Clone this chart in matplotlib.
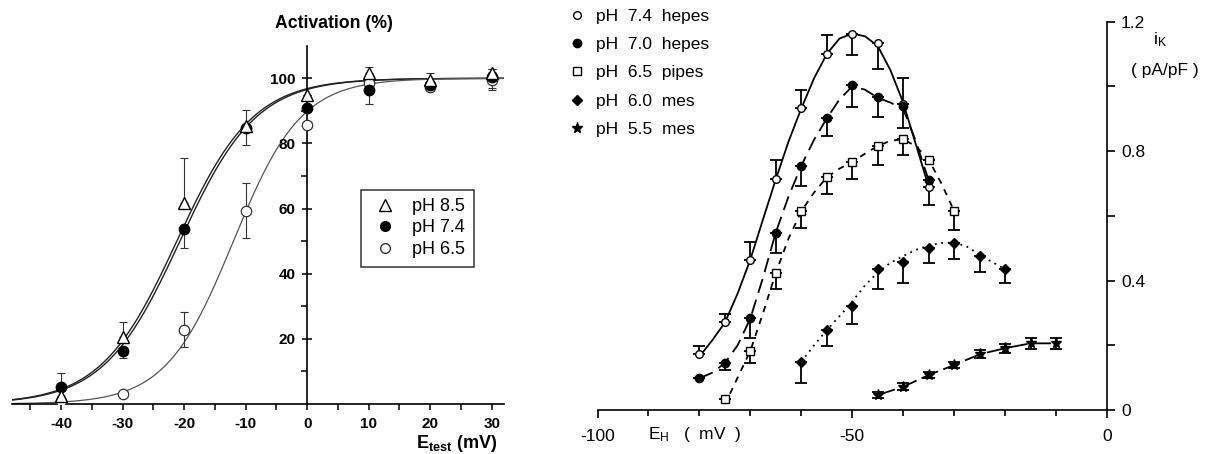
import numpy as np
import matplotlib
matplotlib.use("Agg")
import matplotlib.pyplot as plt
from matplotlib.lines import Line2D

plt.rcParams["font.family"] = ["Liberation Sans", "DejaVu Sans"]
plt.rcParams["axes.unicode_minus"] = False
plt.rcParams["mathtext.fontset"] = "custom"
plt.rcParams["mathtext.rm"] = "Liberation Sans"
plt.rcParams["mathtext.bf"] = "Liberation Sans:bold"

# ---------------- left panel: activation (%) vs E_test ----------------
e_test = [-40, -30, -20, -10, 0, 10, 20, 30]
act_85 = [2.5, 20.6, 61.8, 85.3, 94.8, 101.5, 99.5, 101.5]
act_85_lo = [0, 0, 0, 0, 0, 0, 1.5, 1.5]
act_85_hi = [0, 4.7, 13.6, 5.0, 0, 2.0, 2.0, 1.5]
act_74 = [5.3, 16.4, 53.8, 84.6, 91.0, 96.4, 98.0, 100.5]
act_74_lo = [0, 2.4, 6.0, 5.0, 0, 4.3, 1.0, 3.6]
act_74_hi = [4.1, 0, 0, 0, 0, 0, 0, 2.5]
act_65 = [0.8, 3.0, 22.7, 59.4, 85.7, 98.5, 97.2, 99.5]
act_65_lo = [0, 0, 5.3, 8.5, 0, 0, 1.0, 3.0]
act_65_hi = [0, 0, 5.4, 8.4, 0, 0, 0, 2.5]

# Boltzmann fits (V1/2, slope factor) as drawn in the figure
fit_85 = (-21.2, 6.2)
fit_74 = (-20.7, 6.2)
fit_65 = (-12.0, 5.5)

# ---------------- right panel: i_K vs E_H ----------------
eh_74 = [-80, -75, -70, -65, -60, -55, -50, -45, -40, -35]
ik_74 = [0.173, 0.271, 0.465, 0.713, 0.932, 1.10, 1.161, 1.134, 0.945, 0.69]
ik_74_lo = [0, 0, 0, 0, 0, 0, 0.065, 0.079, 0, 0.057]
ik_74_hi = [0.025, 0.025, 0.055, 0.061, 0.056, 0.058, 0, 0, 0, 0]

eh_70 = [-80, -75, -70, -65, -60, -55, -50, -45, -40, -35]
ik_70 = [0.098, 0.144, 0.283, 0.548, 0.755, 0.903, 1.004, 0.968, 0.939, 0.71]
ik_70_lo = [0, 0.02, 0.059, 0.064, 0.062, 0.057, 0.069, 0.064, 0.067, 0]
ik_70_hi = [0, 0, 0, 0, 0, 0, 0, 0, 0.088, 0]

eh_65 = [-75, -70, -65, -60, -55, -50, -45, -40, -35, -30]
ik_65 = [0.033, 0.183, 0.424, 0.614, 0.719, 0.767, 0.816, 0.837, 0.774, 0.615]
ik_65_lo = [0, 0.039, 0.051, 0.051, 0.051, 0.053, 0.06, 0.049, 0, 0.059]

eh_60 = [-60, -55, -50, -45, -40, -35, -30, -25, -20]
ik_60 = [0.149, 0.247, 0.321, 0.436, 0.458, 0.502, 0.516, 0.476, 0.435]
ik_60_lo = [0.065, 0.049, 0.055, 0.063, 0.064, 0.047, 0.05, 0.051, 0.044]

eh_55 = [-45, -40, -35, -30, -25, -20, -15, -10]
ik_55 = [0.046, 0.072, 0.108, 0.139, 0.172, 0.191, 0.206, 0.206]
ik_55_err = [0.01, 0.01, 0.01, 0.01, 0.012, 0.014, 0.018, 0.018]

# hand-drawn smooth curves
curve_74_x = [-80, -77.5, -75, -72.5, -70, -67.5, -65, -62.5, -60, -57.5,
              -55, -52.5, -50, -47.5, -45, -42.5, -40, -37.5, -35]
curve_74_y = [0.165, 0.215, 0.27, 0.36, 0.465, 0.59, 0.713, 0.83, 0.932, 1.025,
              1.10, 1.148, 1.163, 1.155, 1.125, 1.05, 0.95, 0.82, 0.69]
curve_70_x = [-80, -77.5, -75, -72.5, -70, -67.5, -65, -62.5, -60, -57.5,
              -55, -52.5, -50, -47.5, -45, -42.5, -40, -37.5, -35]
curve_70_y = [0.098, 0.115, 0.145, 0.20, 0.283, 0.41, 0.549, 0.66, 0.755, 0.835,
              0.901, 0.96, 1.0, 0.99, 0.965, 0.95, 0.93, 0.83, 0.71]
curve_65_x = [-74, -72.5, -70, -67.5, -65, -62.5, -60, -57.5, -55, -52.5,
              -50, -47.5, -45, -42.5, -40, -37.5, -35, -32.5, -30]
curve_65_y = [0.05, 0.10, 0.183, 0.30, 0.424, 0.53, 0.614, 0.672, 0.719, 0.746,
              0.767, 0.792, 0.816, 0.832, 0.837, 0.815, 0.774, 0.70, 0.615]
curve_60_x = [-60, -57.5, -55, -52.5, -50, -47.5, -45, -42.5, -40, -37.5,
              -35, -32.5, -30, -27.5, -25, -22.5, -20]
curve_60_y = [0.149, 0.20, 0.247, 0.29, 0.335, 0.385, 0.425, 0.455, 0.476, 0.495,
              0.508, 0.516, 0.518, 0.505, 0.48, 0.457, 0.435]

legend_right = ["pH  7.4  hepes", "pH  7.0  hepes", "pH  6.5  pipes",
                "pH  6.0  mes", "pH  5.5  mes"]
legend_left = ["pH 8.5", "pH 7.4", "pH 6.5"]

W, H = 1215, 454


def fx(px):
    return px / W


def fy(py):
    return 1 - py / H


def boltz(v, fit):
    v12, k = fit
    return 100.0 / (1.0 + np.exp((v12 - v) / k))


fig = plt.figure(figsize=(W / 100, H / 100), dpi=100)

# ---------------- left panel ----------------
ax1 = fig.add_axes([fx(12), fy(404), (504 - 12) / W, (404 - 45.7) / H])
ax1.set_xlim(-48, 32)
ax1.set_ylim(0, 110)
for s in ("top", "right"):
    ax1.spines[s].set_visible(False)
ax1.spines["left"].set_position(("data", 0))
ax1.spines["left"].set_linewidth(1.2)
ax1.spines["bottom"].set_linewidth(1.2)

vv = np.linspace(-48, 32, 400)
ax1.plot(vv, boltz(vv, fit_85), color="#222222", lw=1.0, zorder=1)
ax1.plot(vv, boltz(vv, fit_74), color="#222222", lw=1.0, zorder=1)
ax1.plot(vv, boltz(vv, fit_65), color="#555555", lw=0.9, zorder=1)

for y, lo, hi in ((act_85, act_85_lo, act_85_hi),
                  (act_74, act_74_lo, act_74_hi),
                  (act_65, act_65_lo, act_65_hi)):
    ax1.errorbar(e_test, y, yerr=[lo, hi], fmt="none", ecolor="#333333",
                 elinewidth=0.8, capsize=3, capthick=0.8, zorder=2)

ax1.plot(e_test, act_65, "o", ms=7.5, mfc="white", mec="#333333", mew=0.9, zorder=3)
ax1.plot(e_test, act_74, "o", ms=7.5, mfc="black", mec="black", zorder=4)
ax1.plot(e_test, act_85, "^", ms=9, mfc="white", mec="black", mew=1.0, zorder=5)

ax1.set_xticks([-40, -30, -20, -10, 0, 10, 20, 30])
ax1.set_xticks([-45, -35, -25, -15, -5, 5, 15, 25], minor=True)
ax1.set_yticks([20, 40, 60, 80, 100])
ax1.set_yticks([10, 30, 50, 70, 90], minor=True)
ax1.tick_params(axis="x", which="both", direction="out", length=4, width=1.1,
                pad=5, labelsize=11)
ax1.tick_params(axis="y", which="major", direction="inout", length=7, width=1.1,
                pad=5, labelsize=11)
ax1.tick_params(axis="y", which="minor", direction="out", length=4, width=1.1)
for lab in ax1.get_xticklabels() + ax1.get_yticklabels():
    lab.set_fontweight("bold")

h_left = [Line2D([], [], ls="none", marker="^", ms=8.5, mfc="white", mec="black"),
          Line2D([], [], ls="none", marker="o", ms=7, mfc="black", mec="black"),
          Line2D([], [], ls="none", marker="o", ms=7, mfc="white", mec="#333333")]
leg1 = ax1.legend(h_left, legend_left, loc="upper left",
                  bbox_to_anchor=(fx(361), fy(189.5)), bbox_transform=fig.transFigure,
                  fontsize=13, frameon=True, fancybox=False, edgecolor="black",
                  borderpad=0.48, labelspacing=0.24, handlelength=1.75,
                  handletextpad=0.6, borderaxespad=0)
leg1.get_frame().set_linewidth(1.1)

fig.text(fx(333.5), fy(24), "Activation (%)", ha="center", va="center",
         fontsize=12.7, fontweight="bold")
fig.text(fx(416), fy(448), r"$\mathbf{E_{test}}$ (mV)", ha="left", va="baseline",
         fontsize=13, fontweight="bold")

# ---------------- right panel ----------------
ax2 = fig.add_axes([fx(597.5), fy(410), (1107 - 597.5) / W, (410 - 21.7) / H])
ax2.set_xlim(-100, 0)
ax2.set_ylim(0, 1.2)
for s in ("top", "left"):
    ax2.spines[s].set_visible(False)
ax2.spines["right"].set_linewidth(1.2)
ax2.spines["bottom"].set_linewidth(1.2)

ax2.plot(curve_74_x, curve_74_y, color="black", lw=1.3, zorder=1)
ax2.plot(curve_70_x, curve_70_y, color="black", lw=1.3, ls=(0, (8, 4)), zorder=1)
ax2.plot(curve_65_x, curve_65_y, color="black", lw=1.3, ls=(0, (3.5, 3.5)), zorder=1)
ax2.plot(curve_60_x, curve_60_y, color="black", lw=1.3, ls=(0, (1, 2.6)), zorder=1)
ax2.plot(eh_55, ik_55, color="black", lw=1.3, ls=(0, (10, 3)), zorder=1)

zeros10 = [0] * 10
zeros9 = [0] * 9
for x, y, lo, hi in ((eh_74, ik_74, ik_74_lo, ik_74_hi),
                     (eh_70, ik_70, ik_70_lo, ik_70_hi),
                     (eh_65, ik_65, ik_65_lo, zeros10),
                     (eh_60, ik_60, ik_60_lo, zeros9),
                     (eh_55, ik_55, ik_55_err, ik_55_err)):
    ax2.errorbar(x, y, yerr=[lo, hi], fmt="none", ecolor="black",
                 elinewidth=1.3, capsize=4, capthick=1.3, zorder=2)

ax2.plot(eh_74, ik_74, "o", ms=5.5, mfc="white", mec="black", mew=1.0, zorder=3)
ax2.plot(eh_65, ik_65, "s", ms=5.5, mfc="white", mec="black", mew=1.0, zorder=3)
ax2.plot(eh_70, ik_70, "o", ms=6, mfc="black", mec="black", zorder=4)
ax2.plot(eh_60, ik_60, "D", ms=5, mfc="black", mec="black", zorder=4)
ax2.plot(eh_55, ik_55, "*", ms=8, mfc="black", mec="black", zorder=4)

ax2.set_xticks([-100, -50, 0])
ax2.set_xticklabels(["-100", "-50", "0"])
ax2.set_xticks([-90, -80, -70, -60, -40, -30, -20, -10], minor=True)
ax2.tick_params(axis="x", which="major", direction="out", length=6, width=1.2,
                pad=8, labelsize=12.5)
ax2.tick_params(axis="x", which="minor", direction="out", length=4, width=1.2)
ax2.yaxis.tick_right()
ax2.set_yticks([0, 0.4, 0.8, 1.2])
ax2.set_yticklabels(["0", "0.4", "0.8", "1.2"])
ax2.set_yticks([0.2, 0.6, 1.0], minor=True)
ax2.tick_params(axis="y", which="both", direction="out", length=6, width=1.2,
                pad=4, labelsize=12.5)

h_right = [Line2D([], [], ls="none", marker="o", ms=5.5, mfc="white", mec="black"),
           Line2D([], [], ls="none", marker="o", ms=6, mfc="black", mec="black"),
           Line2D([], [], ls="none", marker="s", ms=5.5, mfc="white", mec="black"),
           Line2D([], [], ls="none", marker="D", ms=5, mfc="black", mec="black"),
           Line2D([], [], ls="none", marker="*", ms=8, mfc="black", mec="black")]
ax2.legend(h_right, legend_right, loc="upper left",
           bbox_to_anchor=(fx(570), fy(9)), bbox_transform=fig.transFigure,
           fontsize=12.5, frameon=False, borderpad=0, borderaxespad=0,
           labelspacing=0.75, handlelength=0.8, handletextpad=0.7)

fig.text(fx(648), fy(434), r"$\mathregular{E_H}$   (  mV  )", ha="left", va="center",
         fontsize=12.5)
fig.text(fx(1153), fy(40), r"$\mathregular{i_K}$", ha="left", va="center",
         fontsize=12.5)
fig.text(fx(1165), fy(70), "( pA/pF )", ha="center", va="center", fontsize=12.5)

fig.savefig("out.png", dpi=100)
